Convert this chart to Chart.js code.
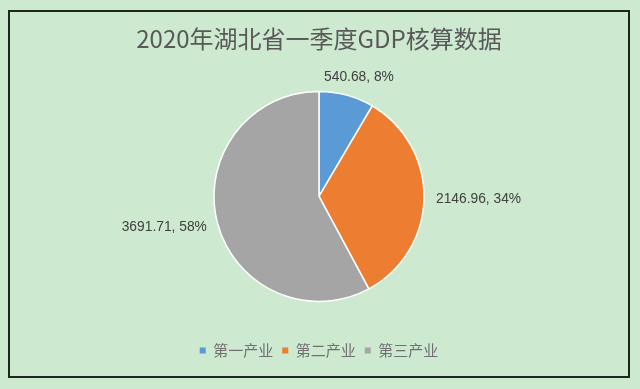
<!DOCTYPE html>
<html>
<head>
<meta charset="utf-8">
<script src="https://cdn.jsdelivr.net/npm/chart.js@4"></script>
<style>
  html, body { margin: 0; padding: 0; }
  body { width: 640px; height: 389px; background: #cde9d0; position: relative; overflow: hidden; }
  #marco {
    position: absolute; left: 8px; top: 10px; width: 618px; height: 364px;
    border: 2px solid #1e261e; background: #cde9d0;
  }
  #marco canvas { display: block; }
</style>
</head>
<body>
<div id="marco"><canvas id="grafico"></canvas></div>
<script>
// Datos del gráfico
const categorias = ['第一产业', '第二产业', '第三产业'];
const valores = [540.68, 2146.96, 3691.71];
const porcentajes = ['8%', '34%', '58%'];
const colores = ['#5b9bd5', '#ed7d31', '#a5a5a5'];

// Etiquetas fuera del sector (valor, porcentaje)
const etiquetasPlugin = {
  id: 'etiquetas',
  afterDatasetsDraw(chart) {
    const ctx = chart.ctx;
    const meta = chart.getDatasetMeta(0);
    ctx.save();
    ctx.font = '13.8px "Liberation Sans", Arial, sans-serif';
    ctx.fillStyle = '#404040';
    ctx.textAlign = 'center';
    ctx.textBaseline = 'middle';
    meta.data.forEach((arc, i) => {
      const p = arc.getProps(['x', 'y', 'startAngle', 'endAngle', 'outerRadius'], true);
      const medio = (p.startAngle + p.endAngle) / 2;
      const dx = Math.cos(medio), dy = Math.sin(medio);
      const texto = `${valores[i]}, ${porcentajes[i]}`;
      const w = ctx.measureText(texto).width;
      const h = 14;
      const r = p.outerRadius + 12;
      const x = p.x + dx * r + dx * w / 2;
      const y = p.y + dy * r + dy * h / 2;
      ctx.fillText(texto, x, y);
    });
    ctx.restore();
  }
};

const ctx = document.getElementById('grafico').getContext('2d');
const chart = new Chart(ctx, {
  type: 'pie',
  data: {
    labels: categorias,
    datasets: [{
      data: valores,
      backgroundColor: colores,
      borderColor: '#ffffff',
      borderWidth: 1.5
    }]
  },
  options: {
    responsive: true,
    maintainAspectRatio: false,
    animation: false,
    radius: 105,
    layout: { padding: { top: 0, bottom: 8, left: 0, right: 0 } },
    plugins: {
      title: {
        display: true,
        text: '2020年湖北省一季度GDP核算数据',
        color: '#595959',
        font: { family: '"Noto Sans CJK SC", sans-serif', size: 24, weight: 'normal' },
        padding: { top: 12, bottom: 6 }
      },
      legend: {
        position: 'bottom',
        labels: {
          boxWidth: 6,
          boxHeight: 6,
          padding: 9,
          color: '#707070',
          font: { family: '"Noto Sans CJK SC", sans-serif', size: 15 },
          generateLabels(chart) {
            return categorias.map((c, i) => ({
              text: c,
              fillStyle: colores[i],
              strokeStyle: colores[i],
              lineWidth: 0,
              fontColor: '#707070',
              index: i
            }));
          }
        }
      },
      tooltip: { enabled: false }
    }
  },
  plugins: [etiquetasPlugin]
});
</script>
</body>
</html>
